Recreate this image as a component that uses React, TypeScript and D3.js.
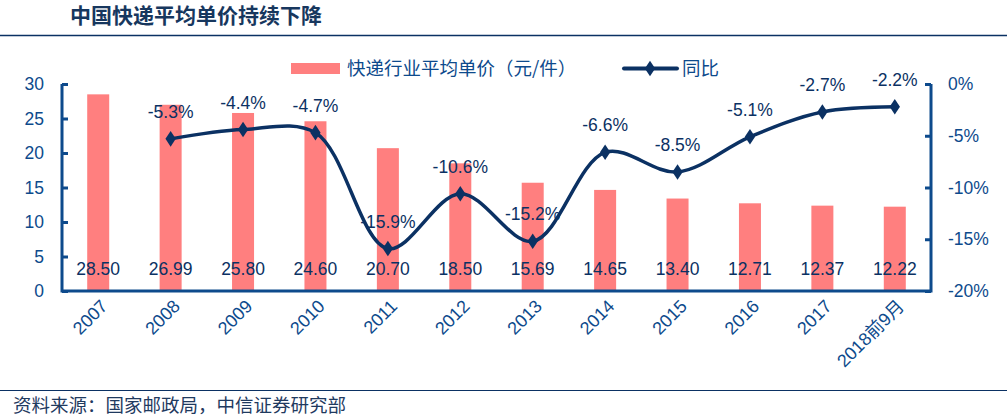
import React, { useEffect, useRef } from 'react'
import * as d3 from 'd3'

const categories = ['2007', '2008', '2009', '2010', '2011', '2012', '2013', '2014', '2015', '2016', '2017', '2018前9月']
const prices = [28.5, 26.99, 25.8, 24.6, 20.7, 18.5, 15.69, 14.65, 13.4, 12.71, 12.37, 12.22]
const yoy = [null, -5.3, -4.4, -4.7, -15.9, -10.6, -15.2, -6.6, -8.5, -5.1, -2.7, -2.2]
const leftTicks = [0, 5, 10, 15, 20, 25, 30]
const rightTicks = [0, -5, -10, -15, -20]

const FONT = "'Liberation Sans', Arial, 'Noto Sans CJK SC', sans-serif"
const CJK = "'Noto Sans CJK SC', 'Liberation Sans', sans-serif"
const BLUE = '#0d4a8c'
const NAVY = '#0b3163'
const BAR = '#ff7f7f'

const App: React.FC = () => {
  const ref = useRef<SVGSVGElement>(null)

  useEffect(() => {
    const width = 1007
    const height = 419
    const plot = { left: 62, right: 931, top: 84, bottom: 291 }

    const svg = d3.select(ref.current).attr('width', width).attr('height', height)
    svg.selectAll('*').remove()

    // title and rules
    svg.append('text')
      .attr('x', 70).attr('y', 23)
      .attr('font-family', CJK).attr('font-size', 21).attr('font-weight', 'bold')
      .attr('fill', '#17375e')
      .text('中国快递平均单价持续下降')
    svg.append('line').attr('x1', 0).attr('x2', width).attr('y1', 35.5).attr('y2', 35.5)
      .attr('stroke', NAVY).attr('stroke-width', 1.5)
    svg.append('line').attr('x1', 0).attr('x2', width).attr('y1', 390.5).attr('y2', 390.5)
      .attr('stroke', NAVY).attr('stroke-width', 1.2)
    svg.append('text')
      .attr('x', 13).attr('y', 412)
      .attr('font-family', CJK).attr('font-size', 18.5)
      .attr('fill', '#1f3a5f')
      .text('资料来源：国家邮政局，中信证券研究部')

    const x = d3.scaleBand<string>().domain(categories).range([plot.left, plot.right])
    const yL = d3.scaleLinear().domain([0, 30]).range([plot.bottom, plot.top])
    const yR = d3.scaleLinear().domain([-20, 0]).range([plot.bottom, plot.top])

    // bars
    const barW = 22
    svg.append('g').selectAll('rect').data(prices).enter().append('rect')
      .attr('x', (_, i) => x(categories[i])! + x.bandwidth() / 2 - barW / 2)
      .attr('y', (d) => yL(d))
      .attr('width', barW)
      .attr('height', (d) => yL(0) - yL(d))
      .attr('fill', BAR)

    // bar value labels
    svg.append('g').selectAll('text').data(prices).enter().append('text')
      .attr('x', (_, i) => x(categories[i])! + x.bandwidth() / 2)
      .attr('y', 275)
      .attr('text-anchor', 'middle')
      .attr('font-family', FONT).attr('font-size', 17.5)
      .attr('fill', NAVY)
      .text((d) => d.toFixed(2))

    // left axis
    const left = svg.append('g')
      .attr('transform', `translate(${plot.left},0)`)
      .call(d3.axisRight(yL).tickValues(leftTicks).tickSize(6).tickFormat(() => ''))
    left.select('.domain').remove()
    left.selectAll('line').attr('stroke', BLUE).attr('stroke-width', 3)
    svg.append('g').selectAll('text').data(leftTicks).enter().append('text')
      .attr('x', 44).attr('y', (d) => yL(d) + 6)
      .attr('text-anchor', 'end')
      .attr('font-family', FONT).attr('font-size', 17.5).attr('fill', BLUE)
      .text((d) => d)

    // right axis
    const right = svg.append('g')
      .attr('transform', `translate(${plot.right},0)`)
      .call(d3.axisLeft(yR).tickValues(rightTicks).tickSize(6).tickFormat(() => ''))
    right.select('.domain').remove()
    right.selectAll('line').attr('stroke', BLUE).attr('stroke-width', 3)
    svg.append('g').selectAll('text').data(rightTicks).enter().append('text')
      .attr('x', 948).attr('y', (d) => yR(d) + 6)
      .attr('text-anchor', 'start')
      .attr('font-family', FONT).attr('font-size', 17.5).attr('fill', BLUE)
      .text((d) => `${d}%`)

    // frame lines
    svg.append('path')
      .attr('d', `M${plot.left},${plot.top}V${plot.bottom}H${plot.right}V${plot.top}`)
      .attr('fill', 'none').attr('stroke', BLUE).attr('stroke-width', 3)

    // x labels
    svg.append('g').selectAll('text').data(categories).enter().append('text')
      .attr('transform', (d) => `translate(${x(d)! + x.bandwidth() / 2 + 6},${plot.bottom + 12}) rotate(-45)`)
      .attr('text-anchor', 'end')
      .attr('dy', '0.35em')
      .attr('font-family', FONT).attr('font-size', 18).attr('fill', BLUE)
      .text((d) => d)

    // yoy line
    const pts = yoy
      .map((v, i) => ({ v, c: categories[i] }))
      .filter((d) => d.v !== null) as { v: number; c: string }[]
    const line = d3.line<{ v: number; c: string }>()
      .x((d) => x(d.c)! + x.bandwidth() / 2)
      .y((d) => yR(d.v))
      .curve(d3.curveCatmullRom.alpha(0.5))
    svg.append('path').datum(pts)
      .attr('d', line)
      .attr('fill', 'none').attr('stroke', NAVY).attr('stroke-width', 3.5)

    const diamond = d3.symbol().type(d3.symbolDiamond).size(70)
    svg.append('g').selectAll('path').data(pts).enter().append('path')
      .attr('d', diamond)
      .attr('transform', (d) => `translate(${x(d.c)! + x.bandwidth() / 2},${yR(d.v)}) scale(1.15,1)`)
      .attr('fill', NAVY)

    svg.append('g').selectAll('text').data(pts).enter().append('text')
      .attr('x', (d) => x(d.c)! + x.bandwidth() / 2)
      .attr('y', (d) => yR(d.v) - 21)
      .attr('text-anchor', 'middle')
      .attr('font-family', FONT).attr('font-size', 17.5).attr('fill', NAVY)
      .text((d) => `${d.v}%`)

    // legend
    const lg = svg.append('g')
    lg.append('rect').attr('x', 291).attr('y', 63).attr('width', 49).attr('height', 11).attr('fill', BAR)
    lg.append('text').attr('x', 347).attr('y', 75)
      .attr('font-family', CJK).attr('font-size', 18.5).attr('fill', BLUE)
      .text('快递行业平均单价（元/件）')
    lg.append('line').attr('x1', 624).attr('x2', 677).attr('y1', 68.5).attr('y2', 68.5)
      .attr('stroke', NAVY).attr('stroke-width', 4).attr('stroke-linecap', 'round')
    lg.append('path').attr('d', diamond).attr('transform', 'translate(650,68.5) scale(1.15,1)').attr('fill', NAVY)
    lg.append('text').attr('x', 682).attr('y', 75)
      .attr('font-family', CJK).attr('font-size', 18.5).attr('fill', BLUE)
      .text('同比')
  }, [])

  return (
    <div style={{ position: 'fixed', top: 0, left: 0, background: '#fff' }}>
      <svg ref={ref} style={{ display: 'block' }} />
    </div>
  )
}

export default App
